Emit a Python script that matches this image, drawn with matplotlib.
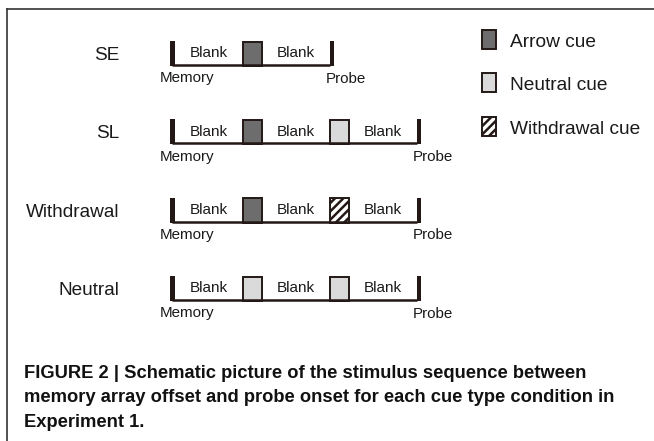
import matplotlib
matplotlib.use('Agg')
import matplotlib.pyplot as plt
from matplotlib.patches import Rectangle
from matplotlib import font_manager

# conditions and the event sequence between memory offset and probe onset
conditions = ['SE', 'SL', 'Withdrawal', 'Neutral']
sequences = [
    ['blank', 'arrow', 'blank'],
    ['blank', 'arrow', 'blank', 'neutral', 'blank'],
    ['blank', 'arrow', 'blank', 'withdrawal', 'blank'],
    ['blank', 'neutral', 'blank', 'neutral', 'blank'],
]
cue_types = ['arrow', 'neutral', 'withdrawal']
cue_labels = ['Arrow cue', 'Neutral cue', 'Withdrawal cue']
blank_text = 'Blank'
start_label = 'Memory'
end_label = 'Probe'
caption_lines = [
    'FIGURE 2 | Schematic picture of the stimulus sequence between',
    'memory array offset and probe onset for each cue type condition in',
    'Experiment 1.',
]

# styling
INK = '#231815'
CUE_FILL = {'arrow': '#6d6d6d', 'neutral': '#dadada', 'withdrawal': 'white'}
CUE_HATCH = {'arrow': None, 'neutral': None, 'withdrawal': '////'}
FONT = 'Liberation Sans'
names = {f.name for f in font_manager.fontManager.ttflist}
CAP_FONT = 'Liberation Sans Narrow' if 'Liberation Sans Narrow' in names else FONT

plt.rcParams['hatch.linewidth'] = 1.8
plt.rcParams['hatch.color'] = INK

# layout in pixel units
X0 = 175.0          # right edge of the memory bar
BLANK_W = 67.5
CUE_W = 19.5
ROW_TOP0 = 41.0
ROW_STEP = 78.3
ROW_H = 25.0

fig = plt.figure(figsize=(6.54, 4.41), dpi=100)
ax = fig.add_axes([0, 0, 1, 1])
ax.set_xlim(0, 654)
ax.set_ylim(441, 0)
ax.axis('off')

# frame (left and top edges)
ax.plot([6.5, 6.5], [441, 8.5], color='#333333', lw=1.2, solid_capstyle='projecting')
ax.plot([6.5, 654], [8.5, 8.5], color='#333333', lw=1.2, solid_capstyle='projecting')

for i, (cond, seq) in enumerate(zip(conditions, sequences)):
    top = ROW_TOP0 + i * ROW_STEP
    base = top + ROW_H
    ax.text(119, top + 19, cond, ha='right', va='baseline', fontsize=13.7,
            family=FONT, color='#1a1a1a')
    # memory bar
    ax.add_patch(Rectangle((X0 - 5, top), 5, ROW_H, facecolor=INK, edgecolor='none'))
    x = X0
    for seg in seq:
        w = BLANK_W if seg == 'blank' else CUE_W
        if seg == 'blank':
            ax.text(x + w / 2, top + 16.3, blank_text, ha='center', va='baseline',
                    fontsize=11, family=FONT, color='#1a1a1a')
        else:
            ax.add_patch(Rectangle((x, top + 0.8), w, ROW_H - 0.8, facecolor=CUE_FILL[seg],
                                   hatch=CUE_HATCH[seg], edgecolor=INK, lw=1.4))
        x += w
    # baseline and probe bar
    ax.plot([X0 - 3, x], [base - 1, base - 1], color=INK, lw=1.8, solid_capstyle='butt')
    ax.add_patch(Rectangle((x, top), 4.5, ROW_H, facecolor=INK, edgecolor='none'))
    ax.text(X0 - 15, base + 16.3, start_label, ha='left', va='baseline',
            fontsize=10.9, family=FONT, color='#1a1a1a')
    ax.text(x - 4, base + 16.6, end_label, ha='left', va='baseline',
            fontsize=10.9, family=FONT, color='#1a1a1a')

# legend
for j, (ct, lab) in enumerate(zip(cue_types, cue_labels)):
    cy = 39.3 + j * 43.5
    ax.add_patch(Rectangle((482, cy - 9.5), 14, 19, facecolor=CUE_FILL[ct],
                           hatch=CUE_HATCH[ct], edgecolor=INK, lw=1.4))
    ax.text(510, cy + 7.3, lab, ha='left', va='baseline', fontsize=13.8,
            family=FONT, color='#1a1a1a')

# caption, font size fitted so the first line spans the same width as the original
cap_size = 12.4
probe = ax.text(24, 378, caption_lines[0], ha='left', va='baseline', fontsize=cap_size,
                family=CAP_FONT, fontweight='bold')
fig.canvas.draw()
w_px = probe.get_window_extent().width
probe.remove()
cap_size = cap_size * 566.0 / w_px
for k, line in enumerate(caption_lines):
    ax.text(24, 378 + k * 24.5, line, ha='left', va='baseline', fontsize=cap_size,
            family=CAP_FONT, fontweight='bold', color='#111111')

fig.savefig('out.png', dpi=100)
